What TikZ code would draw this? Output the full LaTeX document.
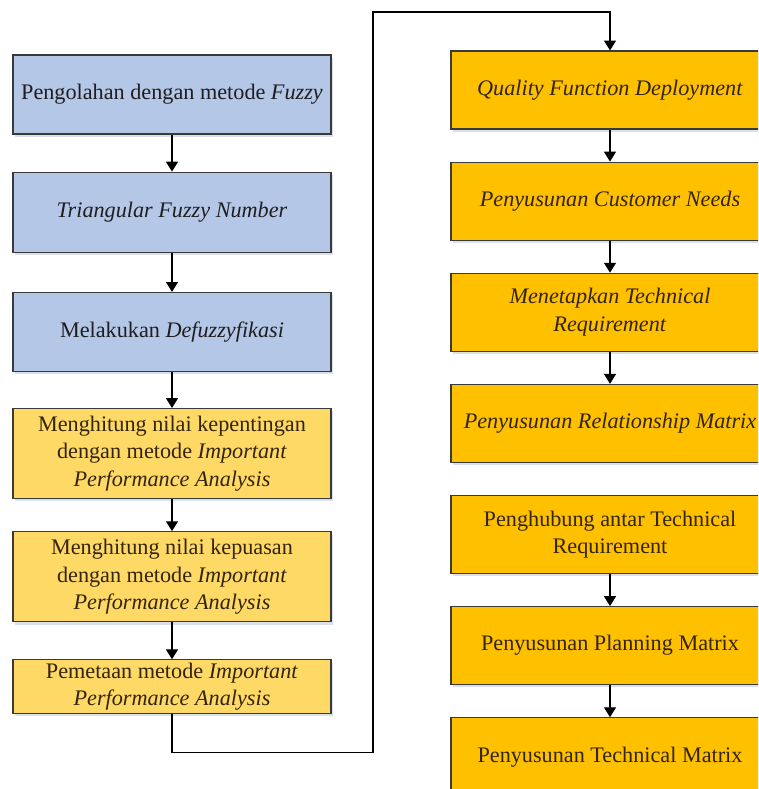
\documentclass[tikz,border=0pt]{standalone}
\usepackage{fontspec}
\setmainfont{Liberation Serif}
\usepackage{xcolor}
\usepackage{tikz}
\usetikzlibrary{arrows.meta,positioning,shadows}
\definecolor{fzInk}{HTML}{1E1E1E}
\definecolor{fzEdge}{HTML}{3A3A3A}
\definecolor{fzBlue}{HTML}{B4C7E7}
\definecolor{fzLightGold}{HTML}{FFD966}
\definecolor{fzGold}{HTML}{FFC000}
\definecolor{fzBrown}{HTML}{33240E}
\definecolor{fzShade}{HTML}{C9D3E3}
\tikzset{
  % common flow box
  flowbox/.style={rectangle,minimum width=7.95cm,
    align=center,inner sep=2pt,line width=0.8pt,draw=fzEdge,
    font=\fontsize{15.8}{19.5}\selectfont,
    drop shadow={shadow xshift=0.04cm,shadow yshift=-0.07cm,
      fill=fzShade,opacity=0.7}},
  % Fuzzy step (blue)
  fuzbox/.style={flowbox,minimum height=1.975cm,
    fill=fzBlue,text=fzInk},
  % IPA step (light gold)
  ipabox/.style={flowbox,minimum height=2.25cm,
    fill=fzLightGold,text=fzBrown},
  % QFD step (gold)
  qfdbox/.style={flowbox,minimum height=1.95cm,
    fill=fzGold,text=fzBrown},
  % Arrows
  arr/.style={-{Triangle[length=7pt,width=8.5pt]},line width=0.8pt,color=black},
}
\begin{document}
\begin{tikzpicture}
  \useasboundingbox (0,0) rectangle (18.95,-19.725);
  \clip (0,0) rectangle (18.95,-19.725);

  % Left column (Fuzzy + IPA)
  \node[fuzbox] (l1) at (4.3,-2.3625)
    {Pengolahan dengan metode \textit{Fuzzy}};
  \node[fuzbox,below=0.925cm of l1,minimum height=2.0cm] (l2)
    {\textit{Triangular Fuzzy Number}};
  \node[fuzbox,below=0.98cm of l2] (l3)
    {Melakukan \textit{Defuzzyfikasi}};
  \node[ipabox,below=0.9cm of l3] (l4)
    {Menghitung nilai kepentingan\\dengan metode \textit{Important}\\
     \textit{Performance Analysis}};
  \node[ipabox,below=0.8cm of l4] (l5)
    {Menghitung nilai kepuasan\\dengan metode \textit{Important}\\
     \textit{Performance Analysis}};
  \node[ipabox,below=0.925cm of l5,minimum height=1.325cm] (l6)
    {Pemetaan metode \textit{Important}\\\textit{Performance Analysis}};

  % Right column (QFD)
  \node[qfdbox] (r1) at (15.25,-2.25)
    {\textit{Quality Function Deployment}};
  \node[qfdbox,below=0.8cm of r1] (r2)
    {\textit{Penyusunan Customer Needs}};
  \node[qfdbox,below=0.8cm of r2] (r3)
    {\textit{Menetapkan Technical}\\\textit{Requirement}};
  \node[qfdbox,below=0.8cm of r3] (r4)
    {\textit{Penyusunan Relationship Matrix}};
  \node[qfdbox,below=0.8cm of r4] (r5)
    {Penghubung antar Technical\\Requirement};
  \node[qfdbox,below=0.8cm of r5] (r6)
    {Penyusunan Planning Matrix};
  \node[qfdbox,below=0.8cm of r6] (r7)
    {Penyusunan Technical Matrix};

  % Left arrows
  \draw[arr] (l1) -- (l2);
  \draw[arr] (l2) -- (l3);
  \draw[arr] (l3) -- (l4);
  \draw[arr] (l4) -- (l5);
  \draw[arr] (l5) -- (l6);

  % Link to QFD column
  \coordinate (turn) at (9.325,-0.3);
  \draw[arr] (l6.south) -- ++(0,-0.975) -| (turn) -| (r1.north);

  % Right arrows
  \draw[arr] (r1) -- (r2);
  \draw[arr] (r2) -- (r3);
  \draw[arr] (r3) -- (r4);
  \draw[arr] (r5) -- (r6);
  \draw[arr] (r6) -- (r7);
\end{tikzpicture}
\end{document}
